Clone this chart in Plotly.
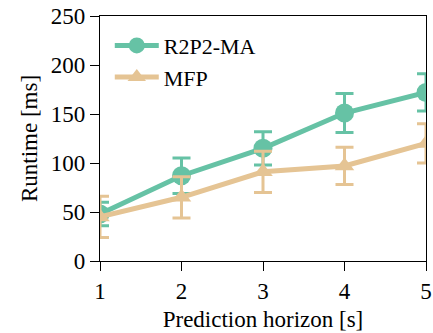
import plotly.graph_objects as go

horizon = [1, 2, 3, 4, 5]
r2p2_mean = [48, 87, 115, 151, 172]
r2p2_err = [12, 18, 17, 20, 19]
mfp_mean = [45, 65, 91, 97, 120]
mfp_err = [21, 21, 21, 19, 20]
y_ticks = [0, 50, 100, 150, 200, 250]

GREEN = "#66c2a5"
TAN = "#e5c494"
FONT = "Liberation Serif"

fig = go.Figure()
fig.add_trace(go.Scatter(
    x=horizon, y=r2p2_mean, name="R2P2-MA", mode="lines+markers",
    line=dict(color=GREEN, width=5),
    marker=dict(symbol="circle", size=19, color=GREEN),
    error_y=dict(type="data", array=r2p2_err, color=GREEN, thickness=3, width=9),
))
fig.add_trace(go.Scatter(
    x=horizon, y=mfp_mean, name="MFP", mode="lines+markers",
    line=dict(color=TAN, width=5),
    marker=dict(symbol="triangle-up", size=17, color=TAN),
    error_y=dict(type="data", array=mfp_err, color=TAN, thickness=3, width=9),
))

axis_common = dict(
    showline=True, linecolor="black", linewidth=1.3, mirror=True,
    ticks="outside", ticklen=9, tickwidth=1.3, tickcolor="black",
    showgrid=False, zeroline=False, automargin=False,
    tickfont=dict(family=FONT, size=23, color="black"),
)
fig.update_xaxes(range=[1, 5], tickvals=horizon,
                 title=dict(text="Prediction horizon [s]", font=dict(family=FONT, size=23, color="black"), standoff=8),
                 **axis_common)
fig.update_yaxes(range=[0, 250], tickvals=y_ticks,
                 title=dict(text="Runtime [ms]", font=dict(family=FONT, size=23, color="black"), standoff=6),
                 **axis_common)

fig.update_layout(
    width=433, height=333,
    margin=dict(l=100, r=7, t=16, b=72),
    plot_bgcolor="white", paper_bgcolor="white",
    font=dict(family=FONT, size=23, color="black"),
    showlegend=True,
    legend=dict(x=0.03, y=0.965, xanchor="left", yanchor="top", tracegroupgap=0,
                itemwidth=44,
                bgcolor="rgba(0,0,0,0)", font=dict(family=FONT, size=22, color="black")),
)

fig.write_html("out.html", config={"displayModeBar": False},
               post_script="document.body.style.margin='0';")
